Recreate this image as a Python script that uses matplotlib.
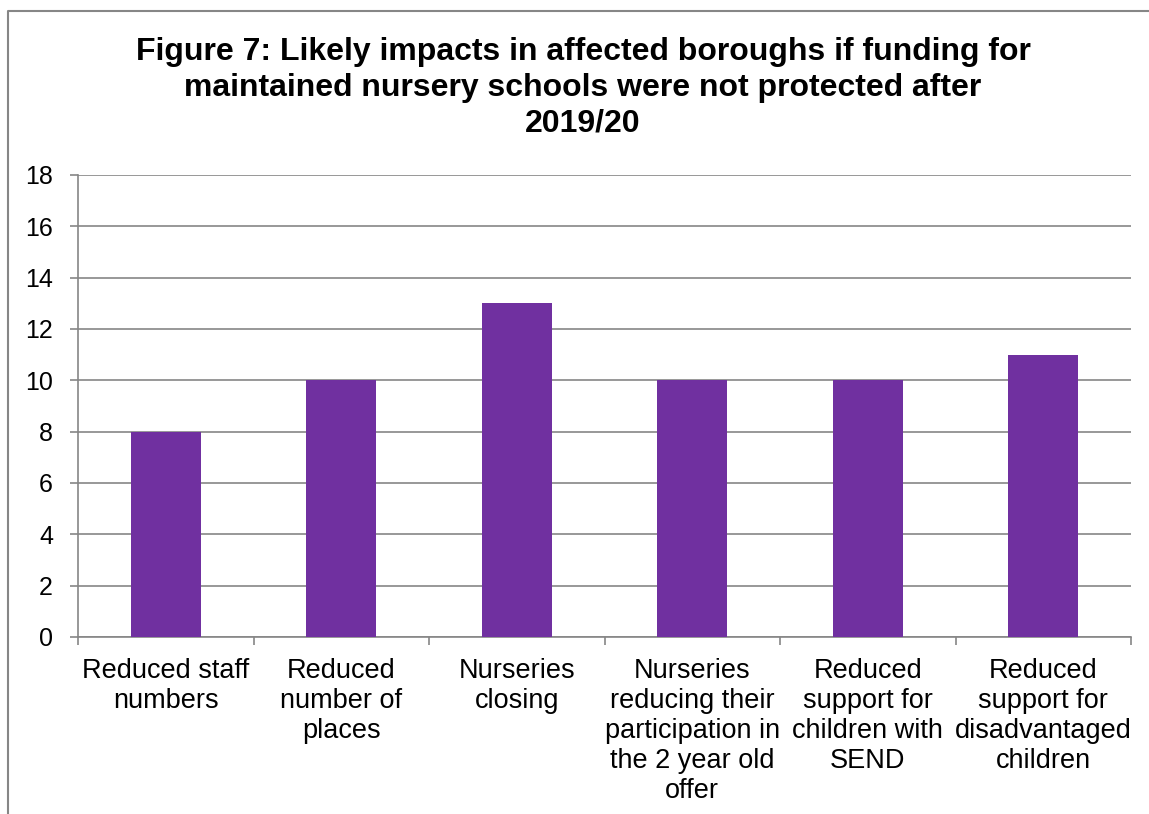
import matplotlib
matplotlib.use("Agg")
import matplotlib.pyplot as plt
from matplotlib.lines import Line2D
import numpy as np

categories = [
    "Reduced staff\nnumbers",
    "Reduced\nnumber of\nplaces",
    "Nurseries\nclosing",
    "Nurseries\nreducing their\nparticipation in\nthe 2 year old\noffer",
    "Reduced\nsupport for\nchildren with\nSEND",
    "Reduced\nsupport for\ndisadvantaged\nchildren",
]
values = [8, 10, 13, 10, 10, 11]
y_ticks = [0, 2, 4, 6, 8, 10, 12, 14, 16, 18]
title = ("Figure 7: Likely impacts in affected boroughs if funding for\n"
         "maintained nursery schools were not protected after\n2019/20")

plt.rcParams["font.family"] = ["Liberation Sans", "DejaVu Sans"]

W, H = 1149, 814
fig = plt.figure(figsize=(W / 100, H / 100), dpi=100)
ax = fig.add_axes([78 / W, 1 - 637 / H, (1131 - 78) / W, (637 - 175) / H])

grey = "#868686"
x = np.arange(len(categories))
ax.bar(x, values, width=0.4, color="#7030A0", zorder=3)

ax.set_xlim(-0.5, len(categories) - 0.5)
ax.set_ylim(0, 18)
ax.set_yticks(y_ticks)
ax.yaxis.grid(True, color=grey, linewidth=1.2, zorder=0)

ax.set_xticks(x)
ax.set_xticklabels(categories, fontsize=19.5, linespacing=1.2, va="top")
ax.set_xticks(np.arange(-0.5, len(categories)), minor=True)
ax.tick_params(axis="x", which="major", length=0, pad=15)
ax.tick_params(axis="x", which="minor", length=6, width=1.2, color=grey)
ax.tick_params(axis="y", length=6, width=1.2, color=grey, pad=12, labelsize=18)

for side in ("top", "right"):
    ax.spines[side].set_visible(False)
for side in ("left", "bottom"):
    ax.spines[side].set_color(grey)
    ax.spines[side].set_linewidth(1.2)

fig.text(583 / W, 1 - 37 / H, title, ha="center", va="top",
         fontsize=23, fontweight="bold", linespacing=1.25)

# outer chart frame
fx, fy = 8 / W, 1 - 11 / H
fig.add_artist(Line2D([fx, fx, 1.0], [0.0, fy, fy], color=grey,
                      linewidth=1.5, transform=fig.transFigure))

fig.savefig("out.png", dpi=100)
